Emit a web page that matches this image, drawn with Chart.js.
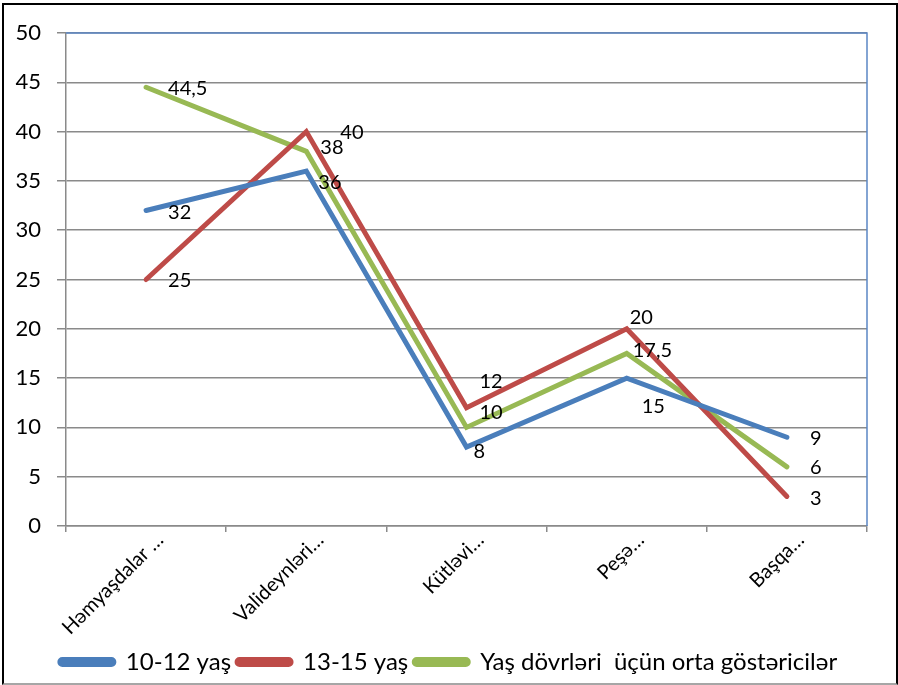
<!DOCTYPE html>
<html>
<head>
<meta charset="utf-8">
<script src="https://cdn.jsdelivr.net/npm/chart.js@4.4.1/dist/chart.umd.min.js"></script>
<style>
    html, body { margin: 0; padding: 0; background: #fff; }
    #wrap { position: relative; width: 898px; height: 685px; }
    #frame {
        position: absolute; left: 2px; top: 3px; width: 892px; height: 678px;
        border-left: 2px solid #000; border-top: 2px solid #000;
        border-right: 2px solid #000; border-bottom: 2px solid #a6a6a6;
        pointer-events: none;
    }
    canvas { position: absolute; left: 0; top: 0; }
</style>
</head>
<body>
<div id="wrap">
    <canvas id="lineChart" width="898" height="685"></canvas>
    <div id="frame"></div>
</div>
<script>
// categories (truncated as in the original)
var categories = ['Həmyaşdalar …', 'Valideynləri…', 'Kütləvi…', 'Peşə…', 'Başqa…'];

var seriesNames = ['10-12 yaş', '13-15 yaş', 'Yaş dövrləri  üçün orta göstəricilər'];
var age10to12 = [32, 36, 8, 15, 9];
var age13to15 = [25, 40, 12, 20, 3];
var average = [44.5, 38, 10, 17.5, 6];

var yTicks = [0, 5, 10, 15, 20, 25, 30, 35, 40, 45, 50];

// where each value label sits relative to its point (dx, dy in px), like the moved labels in the original
var labelShift = [
    [[22, 2], [12, 12], [7, 4], [15, 28], [23, 1]],
    [[22, 1], [34, 1], [13, -26], [3, -11], [23, 2]],
    [[22, 1], [14, -4], [13, -15], [6, -3], [23, 1]]
];

var BLUE = '#4a7ebb', RED = '#be4b48', GREEN = '#98b954';
var FONT = 'Lato, "Liberation Sans", sans-serif';

var valueLabels = {
    id: 'valueLabels',
    afterDatasetsDraw: function (chart) {
        var ctx = chart.ctx;
        ctx.save();
        ctx.font = '20px ' + FONT;
        ctx.fillStyle = '#000';
        ctx.textAlign = 'left';
        ctx.textBaseline = 'middle';
        chart.data.datasets.forEach(function (ds, di) {
            var meta = chart.getDatasetMeta(di);
            meta.data.forEach(function (pt, i) {
                var txt = String(ds.data[i]).replace('.', ',');
                var s = labelShift[di][i];
                ctx.fillText(txt, pt.x + s[0], pt.y + s[1]);
            });
        });
        ctx.restore();
    }
};

// top and right edges of the plot area are blue in the original
var plotEdges = {
    id: 'plotEdges',
    afterDraw: function (chart) {
        var a = chart.chartArea, ctx = chart.ctx;
        ctx.save();
        ctx.strokeStyle = '#5b87c5';
        ctx.lineWidth = 1.5;
        ctx.beginPath();
        ctx.moveTo(a.left, a.top);
        ctx.lineTo(a.right, a.top);
        ctx.lineTo(a.right, a.bottom);
        ctx.stroke();
        ctx.restore();
    }
};

// legend in the original is centred on the whole picture, not on the padded box
var legendNudge = {
    id: 'legendNudge',
    afterLayout: function (chart) {
        if (chart.legend) {
            chart.legend.left += 12;
            chart.legend.right += 12;
        }
    }
};

function makeSet(label, data, color) {
    return {
        label: label,
        data: data,
        borderColor: color,
        backgroundColor: color,
        borderWidth: 5,
        borderCapStyle: 'round',
        borderJoinStyle: 'miter',
        pointRadius: 0,
        pointHoverRadius: 0,
        tension: 0,
        fill: false
    };
}

var ctx = document.getElementById('lineChart').getContext('2d');
var chart = new Chart(ctx, {
    type: 'line',
    data: {
        labels: categories,
        datasets: [
            makeSet(seriesNames[0], age10to12, BLUE),
            makeSet(seriesNames[1], age13to15, RED),
            makeSet(seriesNames[2], average, GREEN)
        ]
    },
    options: {
        responsive: false,
        animation: false,
        layout: { padding: { left: 6, right: 31, top: 33, bottom: 1 } },
        plugins: {
            legend: {
                position: 'bottom',
                labels: {
                    font: { family: FONT, size: 24 },
                    color: '#000',
                    boxWidth: 54,
                    boxHeight: 5,
                    useBorderRadius: true,
                    borderRadius: 2.5,
                    padding: 6
                }
            },
            tooltip: { enabled: false }
        },
        scales: {
            x: {
                offset: true,
                grid: {
                    offset: true,
                    drawOnChartArea: false,
                    drawTicks: true,
                    tickLength: 6,
                    color: '#8a8a8a',
                    lineWidth: 1.5
                },
                border: { color: '#8a8a8a', width: 1.5 },
                ticks: {
                    autoSkip: false,
                    maxRotation: 45,
                    minRotation: 45,
                    color: '#000',
                    font: { family: FONT, size: 20 },
                    padding: -4,
                    labelOffset: 14
                },
                afterFit: function (scale) { scale.height = 118; }
            },
            y: {
                min: 0,
                max: 50,
                afterBuildTicks: function (scale) {
                    scale.ticks = yTicks.map(function (v) { return { value: v }; });
                },
                grid: {
                    color: '#8a8a8a',
                    lineWidth: 1.5,
                    tickLength: 9
                },
                border: { color: '#8a8a8a', width: 1.5 },
                ticks: {
                    color: '#000',
                    font: { family: FONT, size: 22 },
                    padding: 16
                },
                afterFit: function (scale) { scale.width = 60; }
            }
        }
    },
    plugins: [valueLabels, plotEdges, legendNudge]
});
</script>
</body>
</html>
